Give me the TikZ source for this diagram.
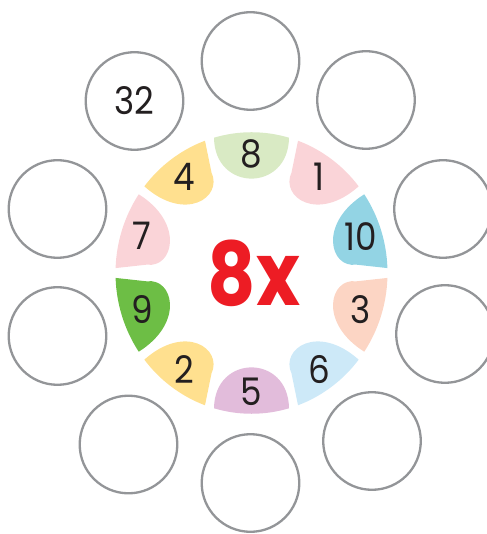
\documentclass[tikz,border=0pt]{standalone}
\usepackage{fontspec}
\setmainfont{Poppins}
\usepackage{graphicx}
\usepackage{xcolor}
\usepackage{tikz}
\definecolor{ansgray}{HTML}{939598}
\definecolor{inkblack}{HTML}{231F20}
\definecolor{factorred}{HTML}{ED1C24}
\definecolor{segmint}{HTML}{D9EAC4}
\definecolor{segpink}{HTML}{FAD4D8}
\definecolor{segteal}{HTML}{93D4E4}
\definecolor{segpeach}{HTML}{FCD5C4}
\definecolor{segsky}{HTML}{CDE9F8}
\definecolor{seglilac}{HTML}{E2BCDB}
\definecolor{segyellow}{HTML}{FFE08F}
\definecolor{segleaf}{HTML}{6DBE45}

\begin{document}
\begin{tikzpicture}[x=1pt, y=1pt,
  answer/.style={circle, draw=ansgray, line width=2.3pt, fill=white,
    minimum size=97.6pt, inner sep=0pt, text=inkblack,
    font=\fontsize{38}{38}\selectfont},
  digit/.style={text=inkblack, inner sep=0pt, font=\fontsize{38}{38}\selectfont}]
\useasboundingbox (-251.5,-261) rectangle (234.5,273);
% answer circles, one for each segment
\node[answer] (ans8) at (-1,212) {};
\node[answer] (ans1) at (114.5,173) {};
\node[answer] (ans10) at (191.5,64) {};
\node[answer] (ans3) at (193.5,-61) {};
\node[answer] (ans6) at (120.5,-168) {};
\node[answer] (ans5) at (-1,-210) {};
\node[answer] (ans2) at (-123,-171.5) {};
\node[answer] (ans9) at (-194,-63) {};
\node[answer] (ans7) at (-194,64) {};
\node[answer] (ans4) at (-117,172) {\scalebox{0.9}[1]{32}};
% coloured ring, slightly taller than wide
\begin{scope}[yscale=1.035]
% segments with a square corner on one side and a tip on the other
\foreach \a/\m/\col in {54/1/segpink, 18/-1/segteal, -18/1/segpeach, -54/-1/segsky,
    234/1/segyellow, 198/-1/segleaf, 162/1/segpink, 126/-1/segyellow}
  \fill[\col, rotate=\a-90, xscale=\m] (106:136) -- (103.6:105)
    .. controls (-20,76) and (25,78) .. (74:136)
    arc[start angle=74, end angle=106, radius=136] -- cycle;
% top and bottom segments are symmetric
\foreach \a/\col in {90/segmint, 270/seglilac}
  \fill[\col, rotate=\a-90] (106:136) .. controls (-37,78) and (37,78) .. (74:136)
    arc[start angle=74, end angle=106, radius=136] -- cycle;
% numbers on the segments
\foreach \a/\n in {90/8, 54/1, 18/10, -18/3, -54/6, -90/5, 234/2, 198/9, 162/7, 126/4}
  \node[digit] (seg\n) at (\a:115) {\scalebox{0.9}[1]{\n}};
\end{scope}
% the factor in the middle
\node[text=factorred, font=\fontsize{88}{88}\selectfont\bfseries] (factor) at (2.5,0)
  {\scalebox{0.85}[1]{8x}};
\end{tikzpicture}
\end{document}
